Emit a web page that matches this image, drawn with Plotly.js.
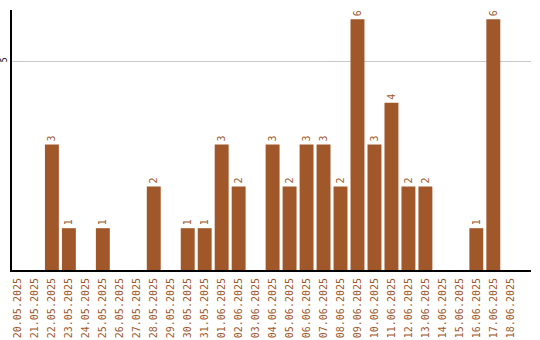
<!DOCTYPE html>
<html>
<head>
<meta charset="utf-8">
<script src="https://cdn.plot.ly/plotly-3.0.1.min.js"></script>
<style>html,body{margin:0;padding:0;background:#fff;}#chart{width:540px;height:340px;}</style>
</head>
<body>
<div id="chart"></div>
<script>
const dates = ["20.05.2025","21.05.2025","22.05.2025","23.05.2025","24.05.2025","25.05.2025","26.05.2025","27.05.2025","28.05.2025","29.05.2025","30.05.2025","31.05.2025","01.06.2025","02.06.2025","03.06.2025","04.06.2025","05.06.2025","06.06.2025","07.06.2025","08.06.2025","09.06.2025","10.06.2025","11.06.2025","12.06.2025","13.06.2025","14.06.2025","15.06.2025","16.06.2025","17.06.2025","18.06.2025"];
const counts = [0,0,3,1,0,1,0,0,2,0,1,1,3,2,0,3,2,3,3,2,6,3,4,2,2,0,0,1,6,0];
const labels = counts.map(v => v ? String(v) : "");

const barColor = "#A0572A";

Plotly.newPlot("chart", [{
  type: "bar",
  x: dates,
  y: counts,
  text: labels,
  textposition: "outside",
  textangle: -90,
  cliponaxis: false,
  textfont: {family: "DejaVu Sans Mono", size: 10, color: barColor},
  marker: {color: barColor},
  width: 0.82,
  hoverinfo: "none"
}], {
  width: 540, height: 340,
  margin: {l: 12, r: 9, t: 10, b: 70, pad: 0},
  paper_bgcolor: "#fff", plot_bgcolor: "#fff",
  showlegend: false,
  xaxis: {
    type: "category",
    range: [-0.35, 30.22],
    tickangle: -90,
    tickfont: {family: "DejaVu Sans Mono", size: 10, color: barColor},
    showline: true, linecolor: "#000", linewidth: 2,
    showgrid: false, ticks: "", ticklabelstandoff: 2
  },
  yaxis: {
    range: [0, 6.22],
    tickvals: [5], ticktext: ["5"],
    tickangle: -90,
    tickfont: {family: "DejaVu Sans Mono", size: 8, color: "#000"},
    showline: true, linecolor: "#000", linewidth: 2,
    showgrid: true, gridcolor: "#c8c8c8", gridwidth: 1,
    zeroline: false, ticks: "", ticklabelstandoff: 0
  }
}, {staticPlot: true});
</script>
</body>
</html>
